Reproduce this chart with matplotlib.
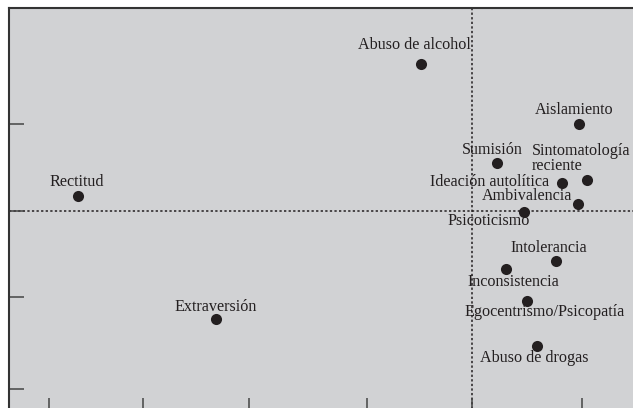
import matplotlib
matplotlib.use("Agg")
import matplotlib.pyplot as plt

# factor scores (crosshair at 0,0)
labels = ["Abuso de alcohol", "Aislamiento", "Sumisión", "Sintomatología\nreciente",
          "Ideación autolítica", "Ambivalencia", "Psicoticismo", "Rectitud",
          "Intolerancia", "Inconsistencia", "Egocentrismo/Psicopatía",
          "Extraversión", "Abuso de drogas"]
x_vals = [-0.51, 1.07, 0.25, 1.15, 0.90, 1.06, 0.52, -3.94, 0.84, 0.34, 0.55, -2.56, 0.65]
y_vals = [1.69, 1.00, 0.55, 0.36, 0.32, 0.08, -0.01, 0.17, -0.57, -0.67, -1.03, -1.24, -1.55]
x_ticks = [-4.23, -3.29, -2.23, -1.05, 0.0, 1.10]
y_ticks = [1.0, 0.0, -0.99, -2.05]

# label placement: (dx px, dy px, ha)
offsets = {
    "Abuso de alcohol": (-7, 19, "center"),
    "Aislamiento": (-5, 14, "center"),
    "Sumisión": (-5, 13, "center"),
    "Sintomatología\nreciente": (-55, 21, "left"),
    "Ideación autolítica": (-13, 1, "right"),
    "Ambivalencia": (-51, 8, "center"),
    "Psicoticismo": (-35, -9, "center"),
    "Rectitud": (-1, 14, "center"),
    "Intolerancia": (-7, 13, "center"),
    "Inconsistencia": (7, -13, "center"),
    "Egocentrismo/Psicopatía": (18, -11, "center"),
    "Extraversión": (0, 12, "center"),
    "Abuso de drogas": (-3, -12, "center"),
}

plt.rcParams['font.family'] = ['Liberation Serif', 'DejaVu Serif']
ink = '#231f20'

fig = plt.figure(figsize=(6.33, 4.08), dpi=100)
ax = fig.add_axes([9 / 633, -5 / 408, 631 / 633, 405 / 408])
ax.set_facecolor('#d1d2d4')
ax.set_xlim(-4.63, 1.68)
ax.set_ylim(-2.322, 2.333)

ax.axhline(0, color=ink, linestyle=(0, (1.5, 1.5)), linewidth=1.1, zorder=1)
ax.axvline(0, color=ink, linestyle=(0, (1.5, 1.5)), linewidth=1.1, zorder=1)

ax.scatter(x_vals, y_vals, s=64, color=ink, zorder=3, linewidths=0)

for lab, xv, yv in zip(labels, x_vals, y_vals):
    dx, dy, ha = offsets[lab]
    ax.annotate(lab, (xv, yv), xytext=(dx, dy), textcoords='offset pixels',
                ha=ha, va='center', fontsize=11.6, color=ink,
                multialignment='left', linespacing=0.95, zorder=4)

ax.set_xticks(x_ticks)
ax.set_yticks(y_ticks)
ax.set_xticklabels([])
ax.set_yticklabels([])
ax.tick_params(direction='in', length=11, width=1.1, color='#444444')
for side in ['left', 'top', 'right', 'bottom']:
    ax.spines[side].set_linewidth(1.5)
    ax.spines[side].set_color('#333333')

fig.savefig('out.png', dpi=100)
